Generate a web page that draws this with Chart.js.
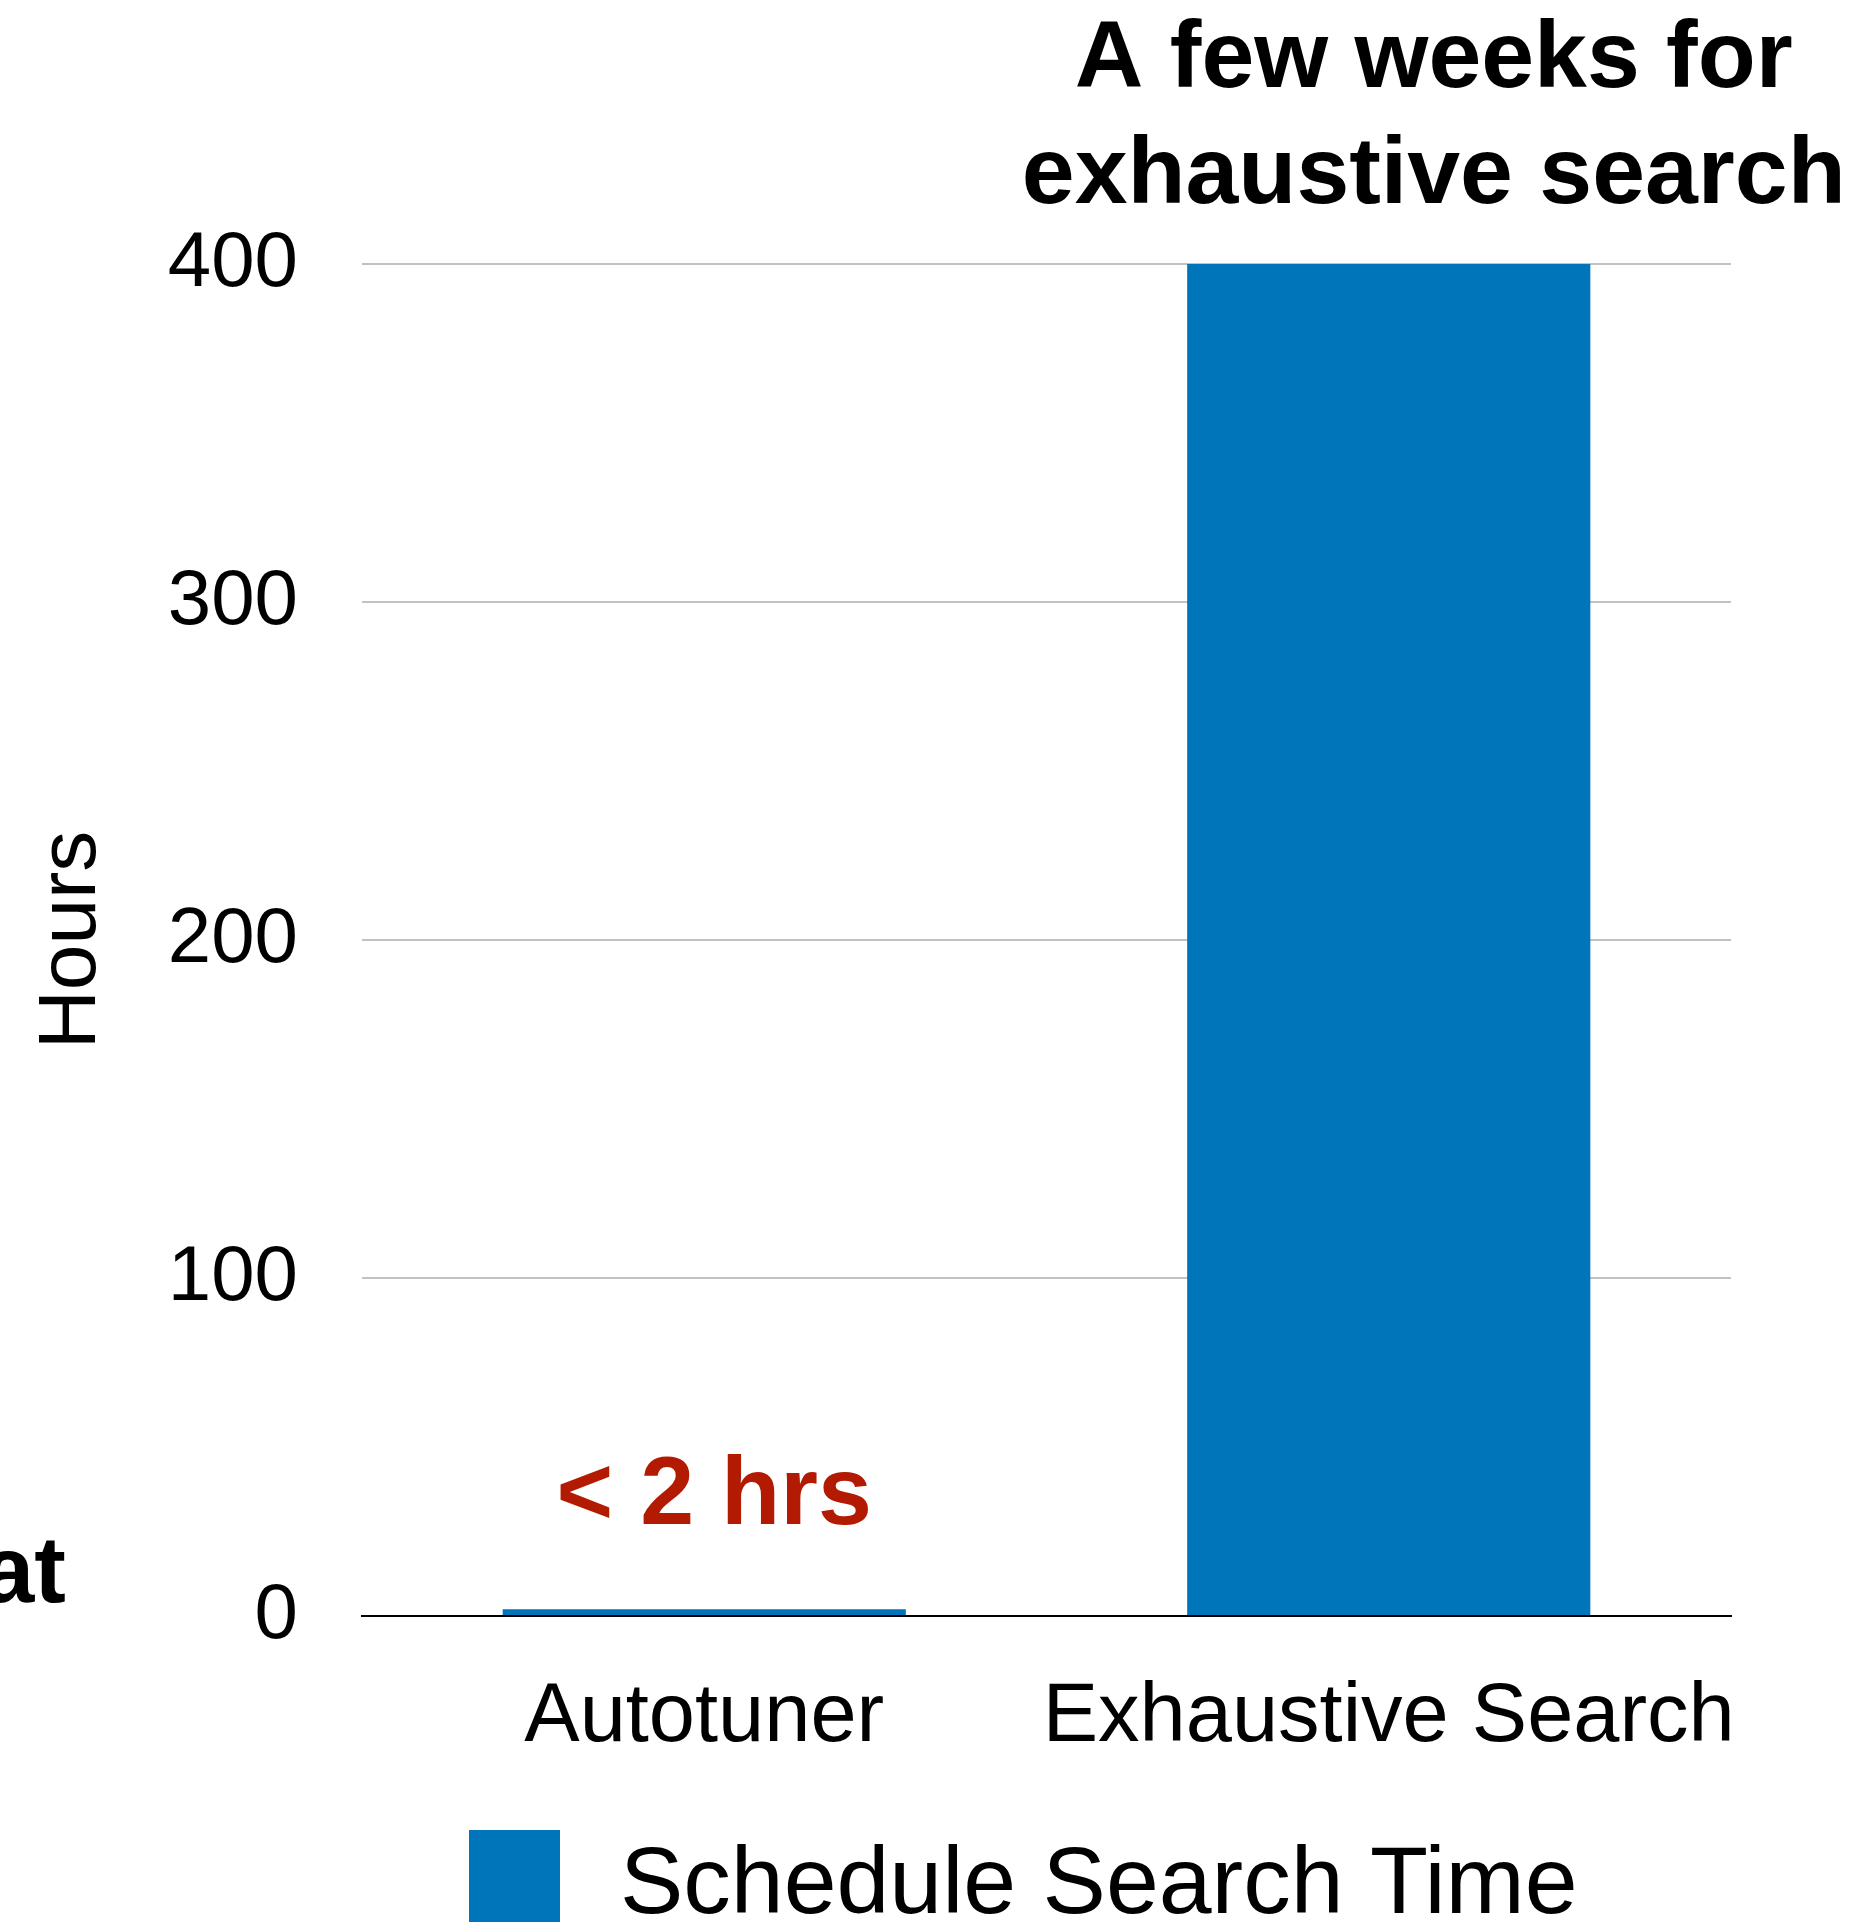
<!DOCTYPE html>
<html>
<head>
<meta charset="utf-8">
<script src="https://cdn.jsdelivr.net/npm/chart.js@4.4.1/dist/chart.umd.min.js"></script>
<style>
  html, body { margin: 0; padding: 0; background: #ffffff; }
  canvas { display: block; }
</style>
</head>
<body>
<canvas id="searchChart" width="1865" height="1922"></canvas>
<script>
// chart values
const categories = ['Autotuner', 'Exhaustive Search'];
const searchHours = [2, 400];
const seriesLabel = 'Schedule Search Time';
const yTitle = 'Hours';
const barNotes = [['< 2 hrs'], ['A few weeks for', 'exhaustive search']];
const noteColors = ['#B21A02', '#000000'];
const cutText = 'at'; // leftover from neighbouring slide

const FONT = '"Liberation Sans", Arial, Helvetica, sans-serif';
const barColor = '#0075B9';

// draws notes above bars, the clipped fragment and the legend
const overlayPlugin = {
    id: 'overlay',
    afterDraw(chart) {
        const ctx = chart.ctx;
        const meta = chart.getDatasetMeta(0);
        ctx.save();

        // bar notes
        const offsets = [{ dx: 10, dy: 85 }, { dx: 45, dy: 61 }];
        meta.data.forEach(function(bar, i) {
            const lines = barNotes[i];
            ctx.font = 'bold ' + (i === 0 ? 97 : 95) + 'px ' + FONT;
            ctx.fillStyle = noteColors[i];
            ctx.textAlign = 'center';
            ctx.textBaseline = 'alphabetic';
            const base = bar.y - offsets[i].dy;
            for (let k = 0; k < lines.length; k++) {
                const y = base - (lines.length - 1 - k) * 116;
                ctx.fillText(lines[k], bar.x + offsets[i].dx, y);
            }
        });

        // fragment at the left edge
        ctx.font = 'bold 95px ' + FONT;
        ctx.fillStyle = '#000000';
        ctx.textAlign = 'right';
        ctx.fillText(cutText, 66, 1602);

        // legend
        const ds = chart.data.datasets[0];
        ctx.fillStyle = ds.backgroundColor;
        ctx.fillRect(469, 1830, 91, 92);
        ctx.fillStyle = '#000000';
        ctx.font = '95px ' + FONT;
        ctx.textAlign = 'left';
        ctx.fillText(ds.label, 620, 1913);

        ctx.restore();
    }
};

const ctx = document.getElementById('searchChart').getContext('2d');
new Chart(ctx, {
    type: 'bar',
    data: {
        labels: categories,
        datasets: [{
            label: seriesLabel,
            data: searchHours,
            backgroundColor: barColor,
            borderWidth: 0,
            categoryPercentage: 1.0,
            barPercentage: 0.589
        }]
    },
    options: {
        responsive: false,
        devicePixelRatio: 1,
        animation: false,
        layout: {
            padding: { left: 0, right: 134, top: 264, bottom: 0 }
        },
        scales: {
            y: {
                min: 0,
                max: 400,
                afterFit: function(scale) { scale.width = 362; },
                border: { display: false },
                grid: {
                    drawTicks: false,
                    lineWidth: 2,
                    color: function(c) { return c.tick && c.tick.value === 0 ? '#000000' : '#C2C2C2'; }
                },
                ticks: {
                    stepSize: 100,
                    padding: 64,
                    color: '#000000',
                    font: { family: FONT, size: 78 }
                },
                title: {
                    display: true,
                    text: yTitle,
                    color: '#000000',
                    padding: { top: 23, bottom: 0 },
                    font: { family: FONT, size: 82 }
                }
            },
            x: {
                afterFit: function(scale) { scale.height = 306; },
                border: { display: true, color: '#000000', width: 2 },
                grid: { display: false, drawTicks: false },
                ticks: {
                    padding: 52,
                    autoSkip: false,
                    maxRotation: 0,
                    minRotation: 0,
                    color: '#000000',
                    font: { family: FONT, size: 83 }
                }
            }
        },
        plugins: {
            legend: { display: false },
            tooltip: { enabled: false }
        }
    },
    plugins: [overlayPlugin]
});
</script>
</body>
</html>
